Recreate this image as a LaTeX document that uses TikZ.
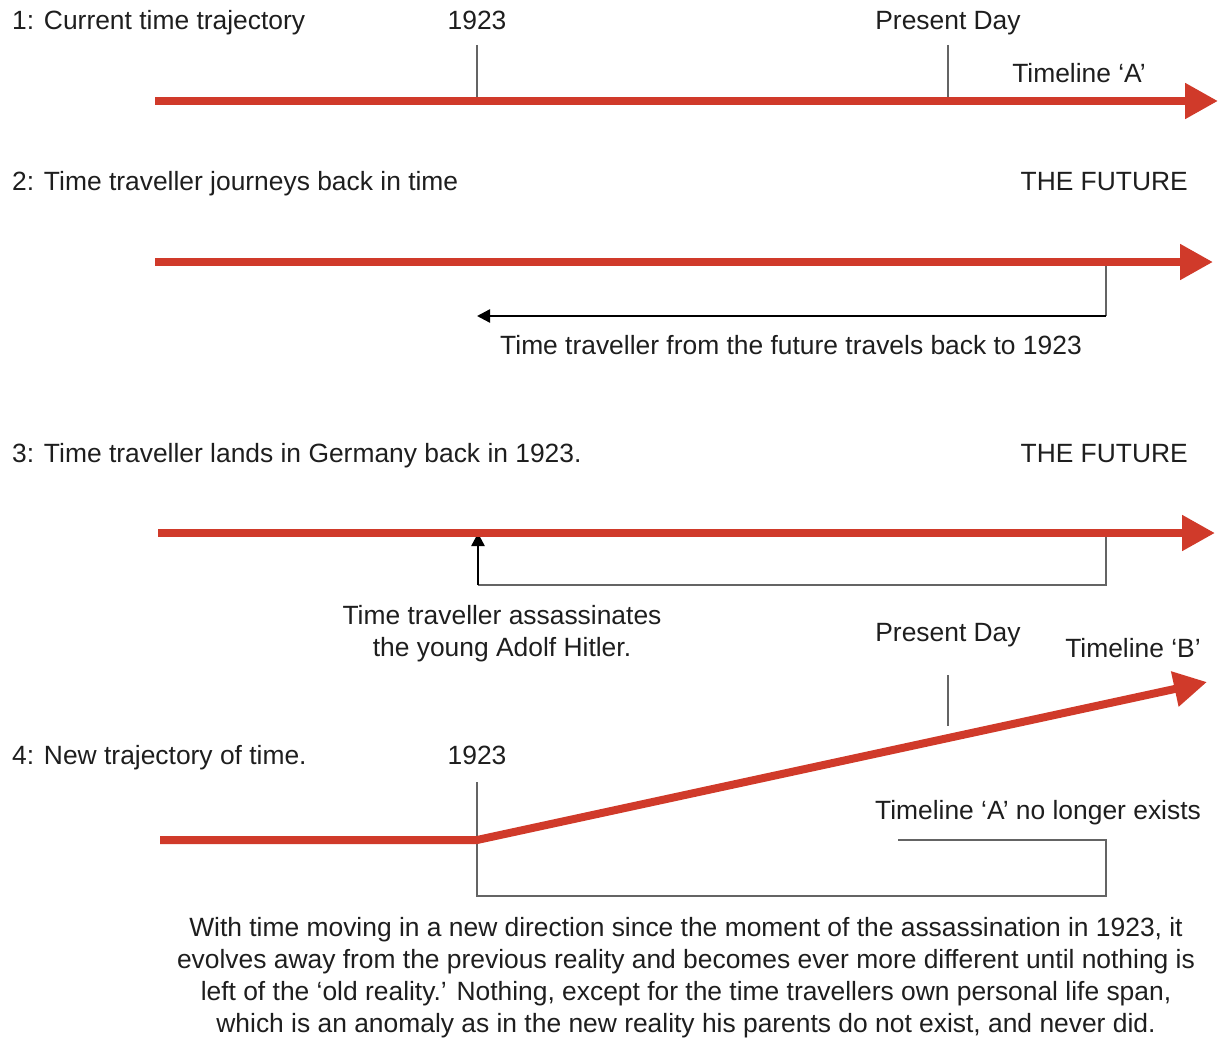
\documentclass[tikz,border=0pt]{standalone}
\usepackage{fontspec}
\setmainfont{Liberation Sans}
\usetikzlibrary{arrows.meta}
\definecolor{tlred}{RGB}{208,58,42}
\definecolor{txt}{RGB}{30,30,30}
\definecolor{gline}{RGB}{100,100,100}
\begin{document}
\begin{tikzpicture}[x=1pt,y=-1pt,
  lbl/.style={inner sep=0pt,text=txt,font=\fontsize{26.4}{32}\selectfont},
  timeline/.style={draw=tlred,line width=8pt,-{Triangle[length=33pt,width=34pt]}},
  tick/.style={draw=gline,line width=1.4pt},
  bracket/.style={draw=gline,line width=1.7pt},
  travel/.style={draw=black,line width=2.4pt,-{Triangle[length=13pt,width=13pt]}}]
\useasboundingbox (0,0) rectangle (1222,1038);
% ---------- Row 1
\node[lbl,anchor=base west] (t1) at (12,29.5) {1: Current time trajectory};
\node[lbl,anchor=base] (y1) at (477,29.5) {1923};
\node[lbl,anchor=base] (p1) at (948,29.5) {Present Day};
\node[lbl,anchor=base] (ta) at (1079,82.5) {Timeline ‘A’};
\coordinate (a1) at (155,101);
\coordinate (b1) at (1218,101);
\coordinate (k1t) at (477,45);
\coordinate (k1b) at (477,101);
\coordinate (k2t) at (948,45);
\coordinate (k2b) at (948,101);
\draw[tick] (k1t) -- (k1b);
\draw[tick] (k2t) -- (k2b);
\draw[timeline] (a1) -- (b1);
% ---------- Row 2
\node[lbl,anchor=base west] (t2) at (12,190.5) {2: Time traveller journeys back in time};
\node[lbl,anchor=base east] (f2) at (1188,190.5) {THE FUTURE};
\coordinate (a2) at (155,262);
\coordinate (b2) at (1213,262);
\coordinate (c2) at (1106,262);
\coordinate (d2) at (1106,316);
\coordinate (e2) at (477,316);
\draw[tick] (c2) -- (d2);
\draw[travel] (d2) -- (e2);
\draw[timeline] (a2) -- (b2);
\node[lbl,anchor=base] (l2) at (791,354.5) {Time traveller from the future travels back to 1923};
% ---------- Row 3
\node[lbl,anchor=base west] (t3) at (12,462.5) {3: Time traveller lands in Germany back in 1923.};
\node[lbl,anchor=base east] (f3) at (1188,462.5) {THE FUTURE};
\coordinate (a3) at (158,533);
\coordinate (b3) at (1215,533);
\coordinate (c3) at (1106,533);
\coordinate (d3) at (1106,585);
\coordinate (e3) at (478,585);
\coordinate (g3) at (478,533);
\draw[bracket] (c3) -- (d3) -- (e3);
\draw[travel] (e3) -- (g3);
\draw[timeline] (a3) -- (b3);
\node[lbl,align=center,anchor=base] (l3) at (502,656.5) {Time traveller assassinates\\the young Adolf Hitler.};
% ---------- Row 4
\node[lbl,anchor=base] (p4) at (948,641.5) {Present Day};
\node[lbl,anchor=base] (tb) at (1133,657.5) {Timeline ‘B’};
\node[lbl,anchor=base west] (t4) at (12,764.5) {4: New trajectory of time.};
\node[lbl,anchor=base] (y4) at (477,764.5) {1923};
\coordinate (a4) at (160,840);
\coordinate (m4) at (477,840);
\coordinate (b4) at (1207,682);
\coordinate (k3t) at (948,675);
\coordinate (k3b) at (948,726);
\coordinate (k4t) at (477,782);
\coordinate (q1) at (477,896);
\coordinate (q2) at (1106,896);
\coordinate (q3) at (1106,840);
\coordinate (q4) at (898,840);
\draw[tick] (k3t) -- (k3b);
\draw[tick] (k4t) -- (m4);
\draw[bracket] (m4) -- (q1) -- (q2) -- (q3) -- (q4);
\draw[timeline] (a4) -- (m4) -- (b4);
\node[lbl,anchor=base] (na) at (1038,819.5) {Timeline ‘A’ no longer exists};
\node[lbl,align=center,anchor=base] (para) at (686,1032.5) {With time moving in a new direction since the moment of the assassination in 1923, it\\evolves away from the previous reality and becomes ever more different until nothing is\\left of the ‘old reality.’ Nothing, except for the time travellers own personal life span,\\which is an anomaly as in the new reality his parents do not exist, and never did.};
\end{tikzpicture}
\end{document}
